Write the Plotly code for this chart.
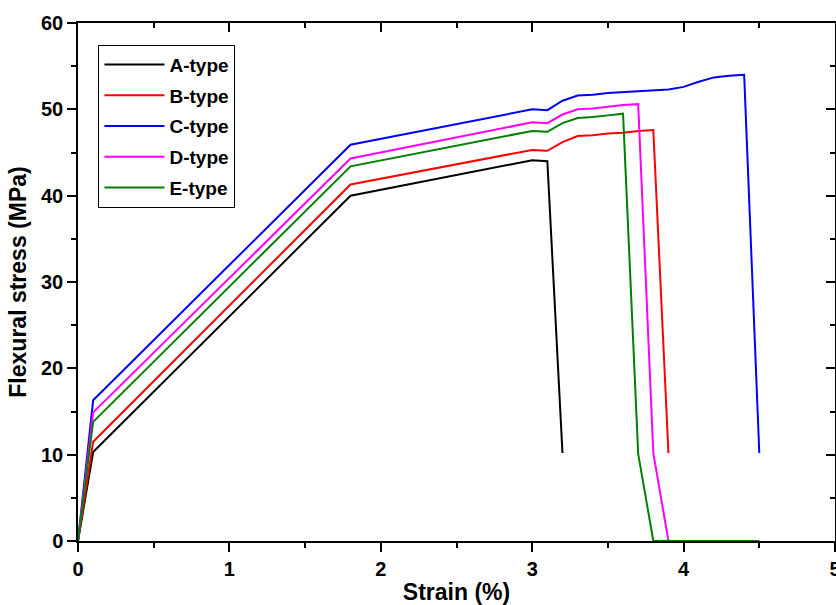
import plotly.graph_objects as go

strain_A = [0, 0.1, 1.8, 3.0, 3.1, 3.2]
stress_A = [0, 10.3, 40.0, 44.1, 44.0, 10.2]

strain_B = [0, 0.1, 1.8, 3.0, 3.1, 3.2, 3.3, 3.4, 3.5, 3.6, 3.7, 3.8, 3.9]
stress_B = [0, 11.5, 41.3, 45.3, 45.2, 46.2, 46.9, 47.0, 47.2, 47.3, 47.5, 47.6, 10.2]

strain_C = [0, 0.1, 1.8, 3.0, 3.1, 3.2, 3.3, 3.4, 3.5, 3.6, 3.7, 3.8, 3.9, 4.0, 4.1, 4.2, 4.3, 4.4, 4.5]
stress_C = [0, 16.3, 45.9, 50.0, 49.9, 51.0, 51.6, 51.7, 51.9, 52.0, 52.1, 52.2, 52.3, 52.6, 53.2, 53.7, 53.9, 54.0, 10.2]

strain_D = [0, 0.1, 1.8, 3.0, 3.1, 3.2, 3.3, 3.4, 3.5, 3.6, 3.7, 3.8, 3.9, 4.0, 4.1, 4.2, 4.3, 4.4, 4.5]
stress_D = [0, 14.9, 44.3, 48.5, 48.4, 49.4, 50.0, 50.1, 50.3, 50.5, 50.6, 10.2, 0, 0, 0, 0, 0, 0, 0]

strain_E = [0, 0.1, 1.8, 3.0, 3.1, 3.2, 3.3, 3.4, 3.5, 3.6, 3.7, 3.8, 3.9, 4.0, 4.1, 4.2, 4.3, 4.4, 4.5]
stress_E = [0, 13.8, 43.4, 47.5, 47.4, 48.4, 49.0, 49.1, 49.3, 49.5, 10.1, 0, 0, 0, 0, 0, 0, 0, 0]

names = ["A-type", "B-type", "C-type", "D-type", "E-type"]
colors = ["#000000", "#ff0000", "#0000ff", "#ff00ff", "#008000"]
series = [(strain_A, stress_A), (strain_B, stress_B), (strain_C, stress_C),
          (strain_D, stress_D), (strain_E, stress_E)]

x_ticks = [0, 1, 2, 3, 4, 5]
y_ticks = [0, 10, 20, 30, 40, 50, 60]

FONT = "Liberation Sans, Arial, sans-serif"

fig = go.Figure()
for (xs, ys), name, col in zip(series, names, colors):
    fig.add_trace(go.Scatter(x=xs, y=ys, mode="lines", name=name,
                             legendgroup=name,
                             line=dict(color=col, width=2)))

# empty trace so that the mirrored frame axes (top / right) are drawn
fig.add_trace(go.Scatter(x=[], y=[], xaxis="x2", yaxis="y2", showlegend=False,
                         hoverinfo="skip"))

axis_common = dict(showline=True, linecolor="black", linewidth=1.5,
                   showgrid=False, zeroline=False, tickcolor="black",
                   tickwidth=1.5)

fig.update_layout(
    width=836, height=605,
    margin=dict(l=78, r=1, t=23, b=64, autoexpand=False),
    plot_bgcolor="white", paper_bgcolor="white",
    font=dict(family=FONT, color="black"),
    showlegend=True,
    legend=dict(x=0.027, y=0.958, xanchor="left", yanchor="top",
                bgcolor="white", bordercolor="black", borderwidth=1,
                font=dict(family=FONT, size=19, weight="bold"),
                tracegroupgap=3, itemwidth=60),
    xaxis=dict(range=[0, 5], tickvals=x_ticks, ticktext=[str(v) for v in x_ticks],
               ticks="outside", ticklen=9, ticklabeloverflow="allow",
               minor=dict(ticks="outside", ticklen=5, dtick=0.5, tickcolor="black", tickwidth=1.5),
               tickfont=dict(family=FONT, size=20, weight="bold"),
               title=dict(text="Strain (%)", standoff=8,
                          font=dict(family=FONT, size=23, weight="bold")),
               automargin=False, **axis_common),
    yaxis=dict(range=[0, 60], tickvals=y_ticks, ticktext=[str(v) for v in y_ticks],
               ticks="outside", ticklen=9,
               minor=dict(ticks="outside", ticklen=5, dtick=5, tickcolor="black", tickwidth=1.5),
               tickfont=dict(family=FONT, size=20, weight="bold"),
               title=dict(text="Flexural stress (MPa)", standoff=8,
                          font=dict(family=FONT, size=23, weight="bold")),
               automargin=False, **axis_common),
    xaxis2=dict(range=[0, 5], overlaying="x", side="top", anchor="y",
                tickvals=x_ticks, showticklabels=False, ticks="inside", ticklen=9,
                minor=dict(ticks="inside", ticklen=5, dtick=0.5, tickcolor="black", tickwidth=1.5),
                **axis_common),
    yaxis2=dict(range=[0, 60], overlaying="y", side="right", anchor="x",
                tickvals=y_ticks, showticklabels=False, ticks="inside", ticklen=9,
                minor=dict(ticks="inside", ticklen=5, dtick=5, tickcolor="black", tickwidth=1.5),
                **axis_common),
)

fig.write_html("out.html", config={"displayModeBar": False},
               post_script="document.body.style.margin='0';document.body.style.padding='0';")
